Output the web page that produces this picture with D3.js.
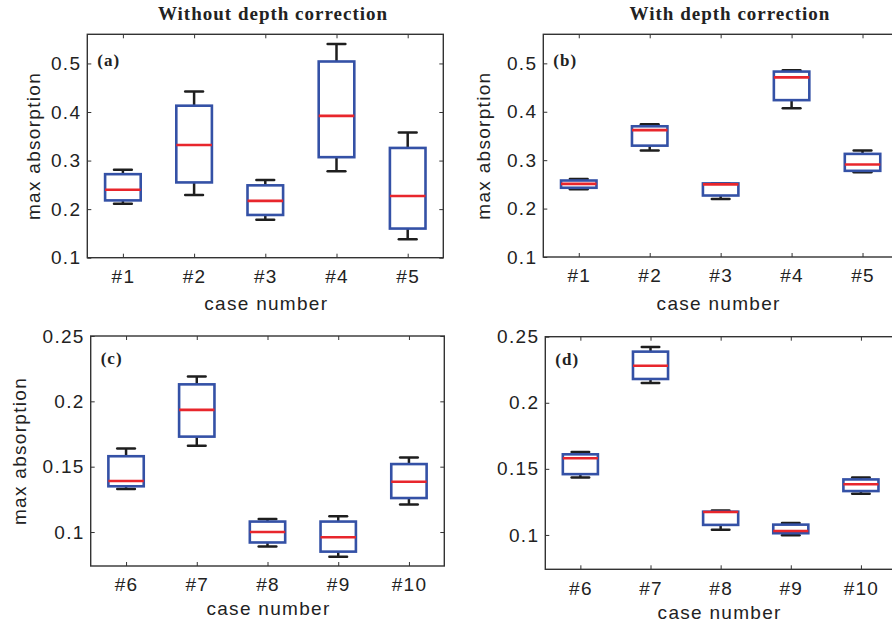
<!DOCTYPE html>
<html lang="en">
<head>
  <meta charset="UTF-8">
  <title>max absorption per case, with and without depth correction</title>
  <script src="https://d3js.org/d3.v7.min.js"></script>
  <style>
    body { margin: 0; background: #fff; }
    svg { display: block; }
    .tick text { font-family: "Liberation Sans", Arial, sans-serif; font-size: 19px; fill: #222; letter-spacing: 1.3px; }
    .tick line { stroke: #333; stroke-width: 1; }
    .axlabel { font-family: "Liberation Sans", Arial, sans-serif; font-size: 19px; fill: #222; letter-spacing: 1.3px; }
    .title { font-family: "Liberation Serif", "Times New Roman", serif; font-weight: bold; font-size: 19px; fill: #222; letter-spacing: 1px; }
    .plabel { font-family: "Liberation Serif", "Times New Roman", serif; font-weight: bold; font-size: 17px; fill: #222; letter-spacing: 1px; }
  </style>
</head>
<body>
  <div id="chart"></div>

  <script>
    // case labels
    const casesTop = ["#1", "#2", "#3", "#4", "#5"];
    const casesBottom = ["#6", "#7", "#8", "#9", "#10"];

    // y ticks
    const yTicksTop = [0.1, 0.2, 0.3, 0.4, 0.5];
    const yTicksBottom = [0.1, 0.15, 0.2, 0.25];

    // [lower whisker, q1, median, q3, upper whisker] per case
    const statsA = [
      [0.211, 0.218, 0.240, 0.272, 0.281],
      [0.229, 0.255, 0.332, 0.413, 0.442],
      [0.178, 0.188, 0.217, 0.249, 0.260],
      [0.278, 0.307, 0.392, 0.504, 0.540],
      [0.138, 0.160, 0.227, 0.326, 0.358]
    ];
    const statsB = [
      [0.240, 0.243, 0.251, 0.258, 0.261],
      [0.320, 0.330, 0.362, 0.370, 0.374],
      [0.220, 0.227, 0.250, 0.252, 0.252],
      [0.407, 0.424, 0.471, 0.483, 0.486],
      [0.275, 0.278, 0.291, 0.313, 0.320]
    ];
    const statsC = [
      [0.133, 0.135, 0.139, 0.158, 0.164],
      [0.166, 0.173, 0.1935, 0.213, 0.219],
      [0.089, 0.092, 0.100, 0.108, 0.110],
      [0.081, 0.085, 0.096, 0.108, 0.112],
      [0.121, 0.126, 0.1385, 0.152, 0.157]
    ];
    const statsD = [
      [0.1435, 0.146, 0.158, 0.161, 0.1627],
      [0.215, 0.218, 0.228, 0.2387, 0.2422],
      [0.104, 0.1076, 0.1174, 0.1176, 0.1184],
      [0.0997, 0.1013, 0.103, 0.1078, 0.109],
      [0.1312, 0.1332, 0.1383, 0.142, 0.1435]
    ];

    const W = 892, H = 625;
    const blue = "#3451a6", red = "#e8262c", black = "#1e1e1e";

    const svg = d3.select("#chart").append("svg")
      .attr("width", W).attr("height", H);

    const panels = [
      { tag: "(a)", cases: casesTop, stats: statsA, ticks: yTicksTop, dom: [0.1, 0.56],
        x0: 87.3, y0: 34.3, x1: 443.3, y1: 257.7, ylab: 40, xlabY: 310,
        title: "Without depth correction", titleX: 273 },
      { tag: "(b)", cases: casesTop, stats: statsB, ticks: yTicksTop, dom: [0.1, 0.56],
        x0: 543.3, y0: 34.3, x1: 898, y1: 257, ylab: 490, xlabY: 310,
        title: "With depth correction", titleX: 730 },
      { tag: "(c)", cases: casesBottom, stats: statsC, ticks: yTicksBottom, dom: [0.074, 0.25],
        x0: 90.7, y0: 336, x1: 444.3, y1: 566, ylab: 26, xlabY: 615 },
      { tag: "(d)", cases: casesBottom, stats: statsD, ticks: yTicksBottom, dom: [0.074, 0.25],
        x0: 545.3, y0: 336.7, x1: 896, y1: 569.3, ylab: null, xlabY: 619 }
    ];

    panels.forEach(p => {
      const g = svg.append("g");
      const w = p.x1 - p.x0, h = p.y1 - p.y0;

      const x = d3.scalePoint().domain(p.cases).range([p.x0, p.x1]).padding(0.5);
      const y = d3.scaleLinear().domain(p.dom).range([p.y1, p.y0]);
      const step = x.step();

      // axes with inward ticks on all sides
      g.append("g").attr("transform", `translate(${p.x0},0)`)
        .call(d3.axisLeft(y).tickValues(p.ticks).tickFormat(d3.format("")).tickSize(-4).tickPadding(6))
        .call(a => a.select(".domain").remove());
      g.append("g").attr("transform", `translate(${p.x1},0)`)
        .call(d3.axisRight(y).tickValues(p.ticks).tickFormat("").tickSize(-4))
        .call(a => a.select(".domain").remove());
      g.append("g").attr("transform", `translate(0,${p.y1})`)
        .call(d3.axisBottom(x).tickSize(-4).tickPadding(12))
        .call(a => a.select(".domain").remove());
      g.append("g").attr("transform", `translate(0,${p.y0})`)
        .call(d3.axisTop(x).tickFormat("").tickSize(-4))
        .call(a => a.select(".domain").remove());

      g.append("rect")
        .attr("x", p.x0).attr("y", p.y0).attr("width", w).attr("height", h)
        .attr("fill", "none").attr("stroke", "#333").attr("stroke-width", 1.4);

      const bw = step * 0.5, cw = step * 0.25;
      const boxes = g.selectAll(".bx").data(p.stats).enter().append("g").attr("class", "bx");

      // whiskers
      boxes.append("line")
        .attr("x1", (d, i) => x(p.cases[i])).attr("x2", (d, i) => x(p.cases[i]))
        .attr("y1", d => y(d[3])).attr("y2", d => y(d[4]))
        .attr("stroke", black).attr("stroke-width", 2.5);
      boxes.append("line")
        .attr("x1", (d, i) => x(p.cases[i])).attr("x2", (d, i) => x(p.cases[i]))
        .attr("y1", d => y(d[0])).attr("y2", d => y(d[1]))
        .attr("stroke", black).attr("stroke-width", 2.5);
      [0, 4].forEach(k => {
        boxes.append("line")
          .attr("x1", (d, i) => x(p.cases[i]) - cw / 2).attr("x2", (d, i) => x(p.cases[i]) + cw / 2)
          .attr("y1", d => y(d[k])).attr("y2", d => y(d[k]))
          .attr("stroke", black).attr("stroke-width", 2.5).attr("stroke-linecap", "round");
      });

      // box
      boxes.append("rect")
        .attr("x", (d, i) => x(p.cases[i]) - bw / 2)
        .attr("y", d => y(d[3]))
        .attr("width", bw)
        .attr("height", d => y(d[1]) - y(d[3]))
        .attr("fill", "none").attr("stroke", blue).attr("stroke-width", 2.6);

      // median
      boxes.append("line")
        .attr("x1", (d, i) => x(p.cases[i]) - bw / 2).attr("x2", (d, i) => x(p.cases[i]) + bw / 2)
        .attr("y1", d => y(d[2])).attr("y2", d => y(d[2]))
        .attr("stroke", red).attr("stroke-width", 2.6);

      // panel tag
      g.append("text").attr("class", "plabel")
        .attr("x", p.x0 + 10).attr("y", p.y0 + (p.y0 < 100 ? 32 : 28))
        .text(p.tag);

      // axis labels
      g.append("text").attr("class", "axlabel")
        .attr("x", (p.x0 + Math.min(p.x1, W)) / 2 + 1).attr("y", p.xlabY)
        .attr("text-anchor", "middle")
        .text("case number");
      if (p.ylab !== null) {
        g.append("text").attr("class", "axlabel")
          .attr("transform", `translate(${p.ylab},${(p.y0 + p.y1) / 2}) rotate(-90)`)
          .attr("text-anchor", "middle")
          .text("max absorption");
      }
      if (p.title) {
        svg.append("text").attr("class", "title")
          .attr("x", p.titleX).attr("y", 20)
          .attr("text-anchor", "middle")
          .text(p.title);
      }
    });
  </script>
</body>
</html>
